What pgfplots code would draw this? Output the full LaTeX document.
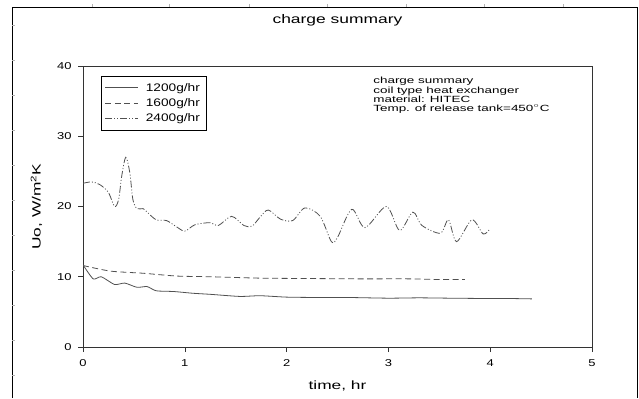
\documentclass[border=0pt]{standalone}
\usepackage{pgfplots}
\pgfplotsset{compat=1.18}
\usepackage{fontspec}
\setmainfont{Liberation Sans}
\definecolor{ln}{RGB}{80,80,80}
\newcommand\sx[2][1.3]{\scalebox{#1}[1]{#2}}
\begin{document}
\begin{tikzpicture}[x=1bp,y=1bp]
\useasboundingbox (0,0) rectangle (639,398);
\draw[line width=0.8bp,black] (12,0) -- (12,391) -- (637,391) -- (637,0);
\foreach \t in {92,169,249,327,406,484,563} \draw[gray!60,line width=0.4bp] (\t,391) -- (\t,394);
\foreach \t in {23,58,93,128,163,198,233,268,303,338,373} \draw[gray!60,line width=0.4bp] (12,\t) -- (15,\t);
\node[font=\fontsize{12.5}{14}\selectfont] at (337.5,378) {\sx[1.4]{charge summary}};
\begin{axis}[
  at={(83bp,51bp)}, anchor=origin,
  width=509bp, height=281bp, scale only axis,
  xmin=0, xmax=5, ymin=0, ymax=40,
  xtick={0,1,2,3,4,5}, ytick={0,10,20,30,40},
  xticklabels={\sx{0},\sx{1},\sx{2},\sx{3},\sx{4},\sx{5}},
  yticklabels={\sx{0},\sx{10},\sx{20},\sx{30},\sx{40}},
  xtick pos=bottom, ytick pos=left,
  tick align=outside, major tick length=5bp,
  axis line style={line width=0.8bp, black!80},
  tick style={line width=0.6bp, black!80},
  ticklabel style={font=\fontsize{10}{12}\selectfont},
  xticklabel style={yshift=-4bp},
  yticklabel style={xshift=-3bp},
  xlabel={\sx[1.45]{time, hr}}, ylabel={\sx[1.45]{Uo, W/m$^{\mathrm{2}}$K}},
  label style={font=\fontsize{12}{14}\selectfont},
  xlabel style={yshift=-7bp},
  ylabel style={yshift=8bp},
  legend style={at={(0.035,0.965)}, anchor=north west, draw=black, line width=0.6bp,
    font=\fontsize{11}{13}\selectfont, row sep=1.8bp, inner xsep=4bp, inner ysep=5bp},
  legend cell align=left,
  legend image post style={line width=0.7bp},
  legend image code/.code={\draw[#1] (0bp,0bp) -- (33bp,0bp); \path (38bp,0bp);},
]
\addplot[ln, line width=0.8bp, smooth, tension=0.4] coordinates {
(0,11.7) (0.10,9.7) (0.18,10.0) (0.31,8.9) (0.41,9.1) (0.53,8.5) (0.63,8.6) (0.72,8.0) (0.89,7.9) (1.08,7.65) (1.25,7.5) (1.54,7.2) (1.74,7.3) (2.0,7.1) (2.3,7.05) (2.6,7.05) (3.0,6.95) (3.3,7.0) (3.6,6.95) (4.0,6.9) (4.2,6.9) (4.41,6.85)
};
\addlegendentry{\sx[1.25]{1200g/hr}}
\addplot[ln, line width=0.8bp, dash pattern=on 6bp off 3.5bp, smooth, tension=0.4] coordinates {
(0,11.6) (0.27,10.8) (0.59,10.5) (0.92,10.1) (1.25,10.0) (1.74,9.8) (2.2,9.75) (2.7,9.7) (3.2,9.7) (3.5,9.6) (3.75,9.6)
};
\addlegendentry{\sx[1.25]{1600g/hr}}
\addplot[ln, line width=0.8bp, dash pattern=on 7bp off 2bp on 1bp off 2bp on 1bp off 2bp, smooth, tension=0.5] coordinates {
(0,23.3) (0.085,23.5) (0.167,23.1) (0.25,22) (0.31,20.0) (0.35,21) (0.38,24.3) (0.42,27.0) (0.46,24.8) (0.49,21) (0.53,19.7) (0.59,19.7) (0.63,19.2) (0.72,18.1) (0.82,18.0) (0.92,17.1) (1.0,16.5) (1.1,17.4) (1.25,17.7) (1.33,17.3) (1.46,18.6) (1.58,17.3) (1.66,17.2) (1.74,18.5) (1.82,19.5) (1.94,18.2) (2.06,18.0) (2.18,19.8) (2.33,18.6) (2.44,15.0) (2.50,15.6) (2.64,19.6) (2.77,17.0) (2.98,20.0) (3.11,16.6) (3.24,19.2) (3.33,17.3) (3.51,16.2) (3.59,18.1) (3.67,15.0) (3.82,18.1) (3.93,16.1) (3.99,16.7)
};
\addlegendentry{\sx[1.25]{2400g/hr}}
\node[anchor=north west, align=left, font=\fontsize{9}{9.3}\selectfont, inner sep=0pt] at (rel axis cs:0.57,0.96) {\sx[1.5]{charge summary}\\\sx[1.5]{coil type heat exchanger}\\\sx[1.5]{material: HITEC}\\\sx[1.5]{Temp. of release tank=450$^{\circ}$C}};
\end{axis}
\end{tikzpicture}
\end{document}
